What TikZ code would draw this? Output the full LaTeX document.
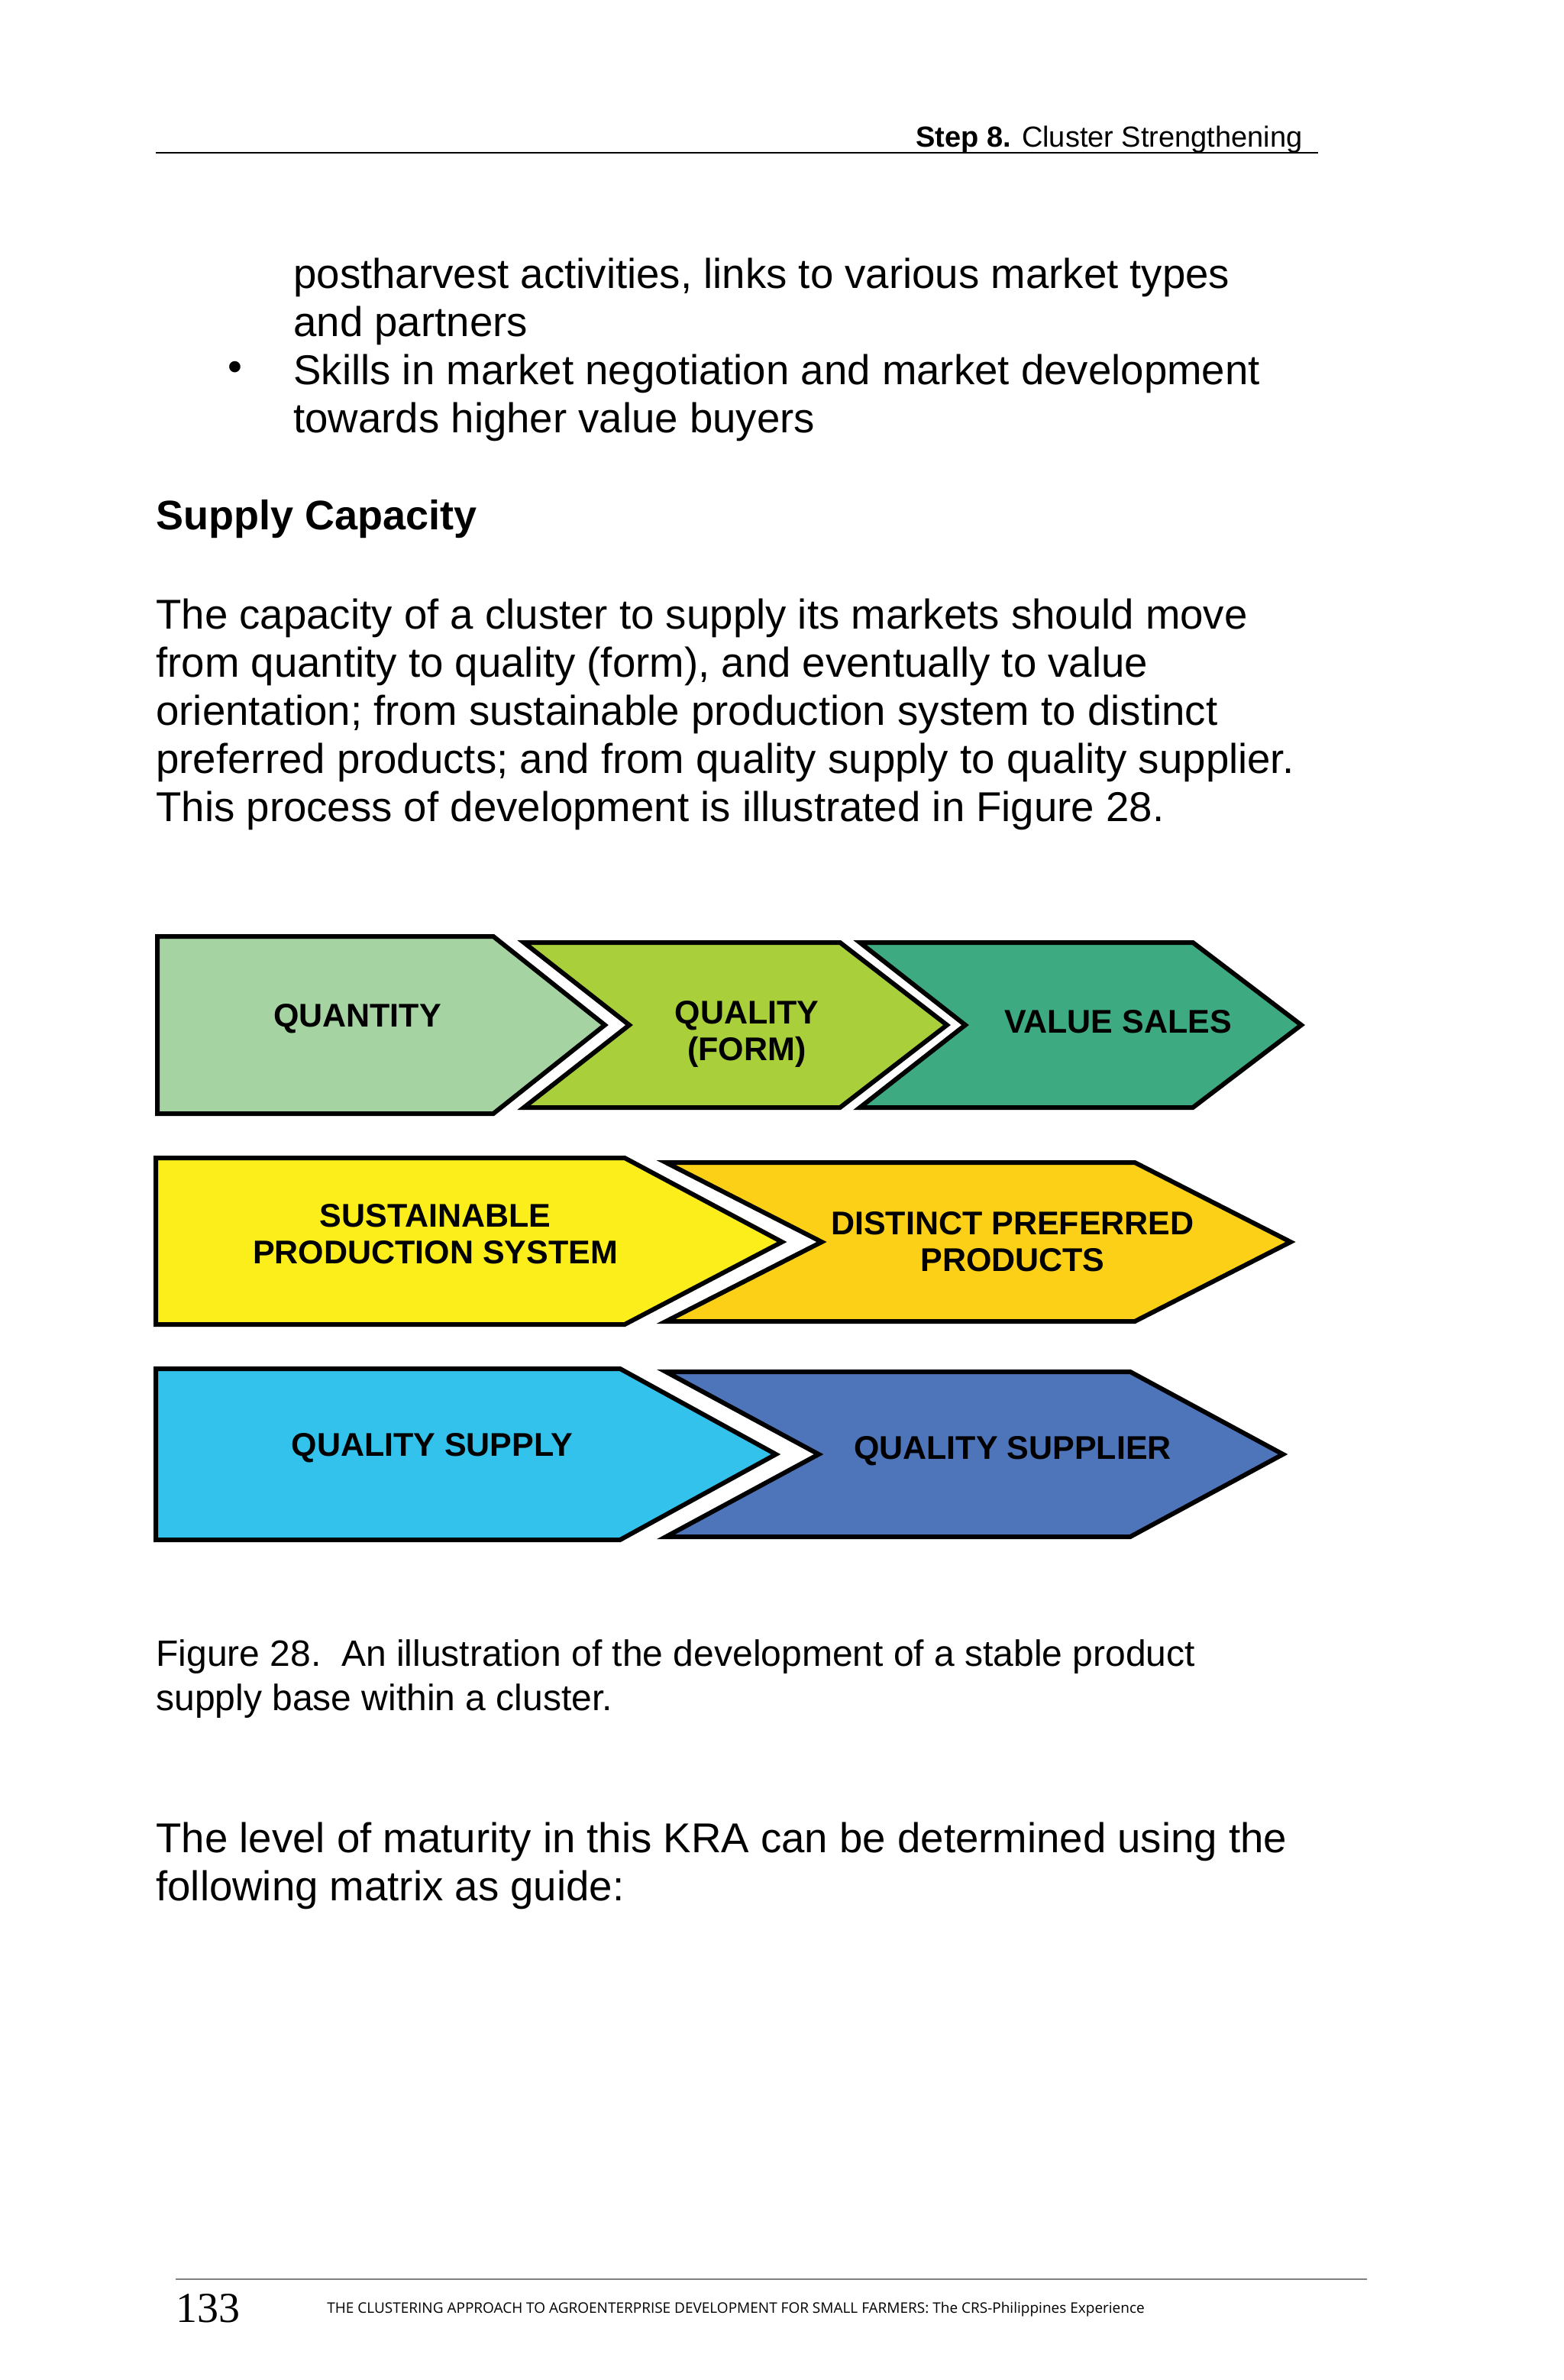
\documentclass[tikz,border=0pt]{standalone}
\usepackage{fontspec}
\setmainfont{Liberation Sans}
\begin{document}
\begin{tikzpicture}[x=1pt,y=-1pt,
 chev/.style={draw=black,line width=3pt,line join=miter,preaction={draw=white,line width=11pt}},
 lab/.style={font=\bfseries\fontsize{21.5}{24}\selectfont,align=center},
 body/.style={anchor=north west,align=left,font=\fontsize{27.3}{31.5}\selectfont,inner sep=0}]
\useasboundingbox[fill=white] (0,0) rectangle (1024,1558);
\definecolor{cA}{HTML}{A5D4A2}\definecolor{cB}{HTML}{A9CF3A}\definecolor{cC}{HTML}{3DAA82}
\definecolor{cD}{HTML}{FCEE1B}\definecolor{cE}{HTML}{FDD018}\definecolor{cF}{HTML}{33C2EC}\definecolor{cG}{HTML}{4E74BA}
% header
\node[anchor=base east,inner sep=0,font=\fontsize{19}{22}\selectfont] (hd) at (853,96) {\textbf{Step 8.} Cluster Strengthening};
\draw[line width=1.2pt] (102,100) -- (863,100);
\node[body] (t1) at (192,169) {postharvest activities, links to various market types\\and partners\\Skills in market negotiation and market development\\towards higher value buyers};
\node[font=\fontsize{27}{30}\selectfont] (bul) at (154,243) {•};
\node[body,font=\bfseries\fontsize{27}{31.5}\selectfont] (h1) at (102,327) {Supply Capacity};
\node[body] (t2) at (102,392) {The capacity of a cluster to supply its markets should move\\from quantity to quality (form), and eventually to value\\orientation; from sustainable production system to distinct\\preferred products; and from quality supply to quality supplier.\\This process of development is illustrated in Figure 28.};
\draw[chev,fill=cG] (436,898)--(740,898)--(840,952)--(740,1006)--(436,1006)--(536,952)--cycle;
\draw[chev,fill=cF] (102,896)--(406,896)--(508,952)--(406,1008)--(102,1008)--cycle;
\draw[chev,fill=cE] (436,761)--(743,761)--(845,813)--(743,865)--(436,865)--(538,813)--cycle;
\draw[chev,fill=cD] (102,758)--(409,758)--(512,813)--(409,867)--(102,867)--cycle;
\draw[chev,fill=cC] (563,617)--(781,617)--(852,671)--(781,725)--(563,725)--(632,671)--cycle;
\draw[chev,fill=cB] (343,617)--(550,617)--(620,671)--(550,725)--(343,725)--(412,671)--cycle;
\draw[chev,fill=cA] (103,613)--(323,613)--(396,671)--(323,729)--(103,729)--cycle;
\node[lab] (q1) at (234,667) {QUANTITY};
\node[lab] (q2) at (489,677) {QUALITY\\(FORM)};
\node[lab] (q3) at (732,669) {VALUE SALES};
\node[lab] (s1) at (285,808) {SUSTAINABLE\\PRODUCTION SYSTEM};
\node[lab] (s2) at (663,813) {DISTINCT PREFERRED\\PRODUCTS};
\node[lab] (u1) at (283,948) {QUALITY SUPPLY};
\node[lab] (u2) at (663,950) {QUALITY SUPPLIER};
\node[body,font=\fontsize{24}{29}\selectfont] (cap) at (102,1073) {Figure 28.\ \ An illustration of the development of a stable product\\supply base within a cluster.};
\node[body] (t3) at (102,1193) {The level of maturity in this KRA can be determined using the\\following matrix as guide:};
\draw[line width=0.6pt,gray] (115,1492) -- (895,1492);
\node[anchor=base west,inner sep=0,font=\fontspec{Liberation Serif}\fontsize{28}{30}\selectfont] (pg) at (115,1520) {133};
\node[anchor=base west,inner sep=0,font=\fontspec{Open Sans}\fontsize{9.5}{12}\selectfont] (ft) at (214,1514) {THE CLUSTERING APPROACH TO AGROENTERPRISE DEVELOPMENT FOR SMALL FARMERS: The CRS-Philippines Experience};
\end{tikzpicture}
\end{document}
